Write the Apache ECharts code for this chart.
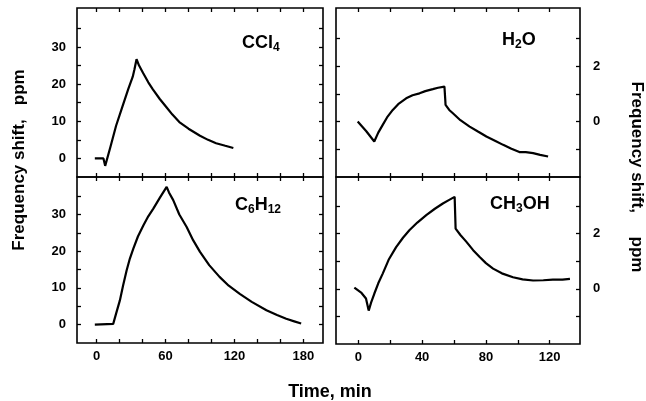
<!DOCTYPE html>
<html>
<head>
<meta charset="utf-8">
<script src="https://cdn.jsdelivr.net/npm/echarts@6/dist/echarts.min.js"></script>
<style>
  html, body { margin: 0; padding: 0; background: #fff; }
  #chart { width: 646px; height: 401px; }
</style>
</head>
<body>
<div id="chart"></div>
<script>
// CCl4 panel (top left)
var ccl4Time = [-1.5, 6, 7.5, 12, 17, 22, 27.5, 31.5, 33, 34.8, 37, 40.5, 45, 49, 55, 61, 66, 72, 80, 90, 97, 104, 112, 119];
var ccl4Shift = [0, 0, -2, 3, 8.8, 13.5, 18.6, 22, 24, 26.7, 25, 23, 20.5, 18.6, 16, 13.7, 11.8, 9.8, 8, 6.1, 5, 4.1, 3.4, 2.8];

// C6H12 panel (bottom left)
var c6h12Time = [-1.5, 14.5, 17, 20.3, 23, 26.2, 29, 32, 36, 40.7, 45, 49.4, 55, 61, 63, 66.7, 72, 78.4, 84, 90, 98, 107, 115, 124.6, 135, 147.8, 157, 165, 172, 178];
var c6h12Shift = [0, 0.2, 3, 6.6, 10.5, 14.8, 18, 20.7, 24, 27, 29.5, 31.6, 34.5, 37.5, 36, 33.9, 30, 26.6, 23, 19.8, 16.2, 13, 10.6, 8.4, 6.2, 3.9, 2.6, 1.6, 0.9, 0.3];

// H2O panel (top right)
var h2oTime = [-0.4, 5, 10, 12.5, 15.3, 18, 21.6, 25, 30, 34, 38.4, 42, 46.7, 50, 54, 54.5, 54.7, 57, 59.3, 64, 69.8, 75, 80.3, 86, 90.8, 96, 101, 105, 109.6, 114, 119];
var h2oShift = [0, -0.35, -0.72, -0.4, -0.12, 0.15, 0.42, 0.63, 0.84, 0.95, 1.02, 1.1, 1.17, 1.22, 1.26, 0.8, 0.6, 0.42, 0.3, 0.05, -0.18, -0.36, -0.54, -0.7, -0.84, -0.98, -1.1, -1.1, -1.14, -1.2, -1.26];

// CH3OH panel (bottom right)
var ch3ohTime = [-2.5, 2, 4.8, 6.5, 8, 10, 12.5, 15.3, 19, 23.7, 28, 32, 37, 42.6, 48, 53, 57, 60.4, 61, 64, 67.8, 72, 76.1, 80, 84.5, 90, 97, 103, 109.6, 116, 122, 128, 132.7];
var ch3ohShift = [0.04, -0.15, -0.35, -0.79, -0.5, -0.18, 0.2, 0.55, 1.05, 1.51, 1.85, 2.12, 2.4, 2.67, 2.9, 3.09, 3.22, 3.33, 2.18, 1.95, 1.7, 1.4, 1.15, 0.93, 0.73, 0.56, 0.42, 0.34, 0.3, 0.31, 0.33, 0.33, 0.36];

// ticks
var leftXTicks = [0, 20, 40, 60, 80, 100, 120, 140, 160, 180];
var leftXLabels = [0, 60, 120, 180];
var rightXTicks = [0, 20, 40, 60, 80, 100, 120];
var rightXLabels = [0, 40, 80, 120];
var leftYTicks = [0, 5, 10, 15, 20, 25, 30, 35];
var leftYLabels = [0, 10, 20, 30];
var rightYTicks = [-1, 0, 1, 2, 3];
var rightYLabels = [0, 2];

var fontFam = '"Liberation Sans", Arial, sans-serif';
var labelFont = {color: '#000', fontSize: 13, fontWeight: 'bold', fontFamily: fontFam};

var grids = [
  {left: 77, top: 8, width: 246, height: 169},
  {left: 77, top: 177, width: 246, height: 166},
  {left: 336, top: 8, width: 244, height: 169},
  {left: 336, top: 177, width: 244, height: 167}
];

function tickStyle(values) {
  return {show: true, inside: true, length: 4, customValues: values, lineStyle: {color: '#000', width: 1.3}};
}

function makeAxis(grid, pos, min, max, ticks, labels, margin) {
  return {
    type: 'value', gridIndex: grid, position: pos, min: min, max: max,
    axisLine: {show: false, onZero: false}, splitLine: {show: false},
    axisTick: tickStyle(ticks),
    axisLabel: labels ? Object.assign({show: true, margin: margin, customValues: labels}, labelFont) : {show: false}
  };
}

var xAxes = [
  makeAxis(0, 'bottom', -17, 197, leftXTicks, null),
  makeAxis(0, 'top', -17, 197, leftXTicks, null),
  makeAxis(1, 'bottom', -17, 197, leftXTicks, leftXLabels, 7),
  makeAxis(1, 'top', -17, 197, leftXTicks, null),
  makeAxis(2, 'bottom', -14, 139, rightXTicks, null),
  makeAxis(2, 'top', -14, 139, rightXTicks, null),
  makeAxis(3, 'bottom', -14, 139, rightXTicks, rightXLabels, 7),
  makeAxis(3, 'top', -14, 139, rightXTicks, null)
];

var yAxes = [
  makeAxis(0, 'left', -5, 40.5, leftYTicks, leftYLabels, 11),
  makeAxis(0, 'right', -5, 40.5, leftYTicks, null),
  makeAxis(1, 'left', -5, 40.2, leftYTicks, leftYLabels, 11),
  makeAxis(1, 'right', -5, 40.2, leftYTicks, null),
  makeAxis(2, 'right', -2, 4.1, rightYTicks, rightYLabels, 13),
  makeAxis(2, 'left', -2, 4.1, rightYTicks, null),
  makeAxis(3, 'right', -2, 4.05, rightYTicks, rightYLabels, 13),
  makeAxis(3, 'left', -2, 4.05, rightYTicks, null)
];

function pairs(xs, ys) {
  return xs.map(function (x, i) { return [x, ys[i]]; });
}

function lineSeries(name, idx, xs, ys) {
  return {
    name: name, type: 'line', xAxisIndex: idx * 2, yAxisIndex: idx * 2,
    data: pairs(xs, ys), showSymbol: false, symbol: 'none',
    lineStyle: {color: '#000', width: 2.2}, animation: false
  };
}

var sub = {fontSize: 12, fontWeight: 'bold', padding: [9, 0, 0, 0], fontFamily: fontFam, color: '#000'};
var main = {fontSize: 18, fontWeight: 'bold', fontFamily: fontFam, color: '#000'};

function panelTitle(text, left, top) {
  return {text: text, left: left, top: top, padding: 0, textStyle: {fontSize: 18, fontWeight: 'bold', color: '#000', rich: {m: main, s: sub}}};
}

var chart = echarts.init(document.getElementById('chart'));
chart.setOption({
  backgroundColor: '#fff',
  animation: false,
  title: [
    panelTitle('{m|CCl}{s|4}', 242, 33),
    panelTitle('{m|H}{s|2}{m|O}', 502, 30),
    panelTitle('{m|C}{s|6}{m|H}{s|12}', 235, 195),
    panelTitle('{m|CH}{s|3}{m|OH}', 490, 194)
  ],
  grid: grids.map(function (g) {
    return Object.assign({show: true, borderColor: '#000', borderWidth: 1.6, backgroundColor: 'transparent'}, g);
  }),
  xAxis: xAxes,
  yAxis: yAxes,
  series: [
    lineSeries('CCl4', 0, ccl4Time, ccl4Shift),
    lineSeries('C6H12', 1, c6h12Time, c6h12Shift),
    lineSeries('H2O', 2, h2oTime, h2oShift),
    lineSeries('CH3OH', 3, ch3ohTime, ch3ohShift)
  ],
  graphic: [
    {type: 'text', x: 19, y: 160, rotation: Math.PI / 2,
      style: {text: 'Frequency shift,   ppm', font: 'bold 17px ' + fontFam, fill: '#000', align: 'center', verticalAlign: 'middle'}},
    {type: 'text', x: 637, y: 177, rotation: -Math.PI / 2,
      style: {text: 'Frequency shift,     ppm', font: 'bold 17px ' + fontFam, fill: '#000', align: 'center', verticalAlign: 'middle'}},
    {type: 'text', x: 330, y: 392,
      style: {text: 'Time, min', font: 'bold 18px ' + fontFam, fill: '#000', align: 'center', verticalAlign: 'middle'}}
  ]
});
</script>
</body>
</html>
